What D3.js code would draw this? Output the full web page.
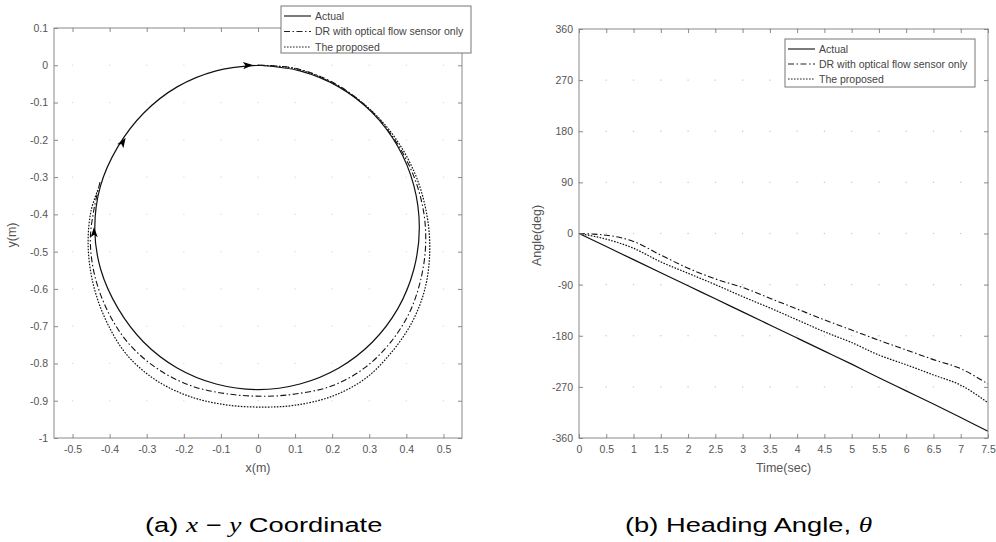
<!DOCTYPE html>
<html><head><meta charset="utf-8">
<script src="https://cdn.jsdelivr.net/npm/d3@7"></script>
<style>
body{margin:0;background:#fff}
svg{display:block}
text{font-family:"Liberation Sans",Arial,Helvetica,sans-serif}
</style>
</head><body>
<svg id="c" width="996" height="542"></svg>
<script>
// ---------------- DATA ----------------
const seriesNames = ["Actual", "DR with optical flow sensor only", "The proposed"];

// (a) x-y trajectory (m)
const xyActualX = [0, 0.113, 0.218, 0.308, 0.377, 0.420, 0.435, 0.420, 0.377, 0.308, 0.218, 0.113, 0, -0.113, -0.218, -0.308, -0.377, -0.424, -0.440, -0.425, -0.378, -0.308, -0.218, -0.113, 0];
const xyActualY = [0, -0.015, -0.058, -0.127, -0.218, -0.322, -0.435, -0.548, -0.653, -0.743, -0.812, -0.855, -0.870, -0.855, -0.812, -0.743, -0.653, -0.548, -0.440, -0.325, -0.219, -0.128, -0.058, -0.015, 0];

const xyDRX = [0, 0.10, 0.20, 0.292, 0.362, 0.417, 0.446, 0.452, 0.440, 0.410, 0.360, 0.290, 0.200, 0.100, 0.020, -0.080, -0.180, -0.270, -0.350, -0.405, -0.440, -0.452, -0.442, -0.425];
const xyDRY = [0, -0.008, -0.045, -0.110, -0.190, -0.290, -0.390, -0.480, -0.570, -0.660, -0.740, -0.810, -0.860, -0.882, -0.888, -0.882, -0.860, -0.815, -0.745, -0.660, -0.565, -0.470, -0.385, -0.310];

const xyPropX = [0, 0.10, 0.20, 0.295, 0.370, 0.425, 0.455, 0.463, 0.450, 0.415, 0.360, 0.290, 0.200, 0.100, 0.020, -0.080, -0.180, -0.275, -0.355, -0.412, -0.446, -0.458, -0.450, -0.430];
const xyPropY = [0, -0.009, -0.047, -0.112, -0.195, -0.295, -0.400, -0.500, -0.600, -0.690, -0.770, -0.840, -0.888, -0.912, -0.917, -0.912, -0.890, -0.845, -0.775, -0.680, -0.580, -0.480, -0.390, -0.330];

// direction arrows on the actual path
const arrowX = [-0.027, -0.364, -0.442];
const arrowY = [0, -0.206, -0.448];
const arrowDeg = [-3.5, -57.8, -91.7];

const xyXTicks = [-0.5, -0.4, -0.3, -0.2, -0.1, 0, 0.1, 0.2, 0.3, 0.4, 0.5];
const xyXTickLabels = ["-0.5", "-0.4", "-0.3", "-0.2", "-0.1", "0", "0.1", "0.2", "0.3", "0.4", "0.5"];
const xyYTicks = [-1, -0.9, -0.8, -0.7, -0.6, -0.5, -0.4, -0.3, -0.2, -0.1, 0, 0.1];
const xyYTickLabels = ["-1", "-0.9", "-0.8", "-0.7", "-0.6", "-0.5", "-0.4", "-0.3", "-0.2", "-0.1", "0", "0.1"];

// (b) heading angle (deg) vs time (sec)
const timeSec = [0, 0.5, 1, 1.5, 2, 2.5, 3, 3.5, 4, 4.5, 5, 5.5, 6, 6.5, 7, 7.5];
const angleActual = [0, -23, -46, -69, -92, -115, -138, -161, -184, -207, -230, -254, -277, -300, -324, -348];
const angleProposed = [0, -10, -26, -50, -70, -90, -111, -131, -152, -173, -192, -214, -231, -249, -267, -298];
const timeDR = [0, 0.25, 0.5, 0.75, 1, 1.5, 2, 2.5, 3, 3.5, 4, 4.5, 5, 5.5, 6, 6.5, 7, 7.5];
const angleDR = [0, -1, -3, -7, -14, -38, -61, -80, -95, -114, -133, -152, -170, -188, -205, -222, -238, -265];

const tTicks = [0, 0.5, 1, 1.5, 2, 2.5, 3, 3.5, 4, 4.5, 5, 5.5, 6, 6.5, 7, 7.5];
const tTickLabels = ["0", "0.5", "1", "1.5", "2", "2.5", "3", "3.5", "4", "4.5", "5", "5.5", "6", "6.5", "7", "7.5"];
const angTicks = [-360, -270, -180, -90, 0, 90, 180, 270, 360];
const angTickLabels = ["-360", "-270", "-180", "-90", "0", "90", "180", "270", "360"];

// ---------------- DRAW ----------------
const svg = d3.select("#c");
const AXIS = "#8a8a8a", TXT = "#555", GRID = "#c4c4c4";
const styles = [
  {dash: null, w: 1.2},
  {dash: "6,2.5,1.5,2.5", w: 1.1},
  {dash: "1.6,1.4", w: 1.2}
];

function panel(o) {
  const g = svg.append("g");
  const x = d3.scaleLinear().domain(o.xDom).range([o.l, o.r]);
  const y = d3.scaleLinear().domain(o.yDom).range([o.b, o.t]);
  o.xTicks.forEach(xv => o.yTicks.forEach(yv => {
    g.append("rect").attr("x", x(xv) - 0.6).attr("y", y(yv) - 0.6)
      .attr("width", 1.2).attr("height", 1.2).attr("fill", o.gridCol);
  }));
  const lines = g.append("g");
  g.append("rect").attr("x", o.l).attr("y", o.t).attr("width", o.r - o.l).attr("height", o.b - o.t)
    .attr("fill", "none").attr("stroke", AXIS).attr("stroke-width", 1);
  const tl = 4;
  const ax = d3.axisBottom(x).tickValues(o.xTicks).tickFormat((d, i) => o.xLabels[i]).tickSize(-tl).tickPadding(8);
  const axT = d3.axisTop(x).tickValues(o.xTicks).tickFormat("").tickSize(-tl);
  const ay = d3.axisLeft(y).tickValues(o.yTicks).tickFormat((d, i) => o.yLabels[i]).tickSize(-tl).tickPadding(6);
  const ayR = d3.axisRight(y).tickValues(o.yTicks).tickFormat("").tickSize(-tl);
  [[ax, `translate(0,${o.b})`], [axT, `translate(0,${o.t})`], [ay, `translate(${o.l},0)`], [ayR, `translate(${o.r},0)`]].forEach(([a, tr]) => {
    const s = g.append("g").attr("transform", tr).call(a);
    s.select(".domain").remove();
    s.selectAll("line").attr("stroke", AXIS);
    s.selectAll("text").attr("fill", TXT).attr("font-size", 10.5)
      .attr("font-family", '"Liberation Sans",Arial,sans-serif');
  });
  g.append("text").attr("x", (o.l + o.r) / 2).attr("y", o.b + 34).attr("text-anchor", "middle")
    .attr("font-size", 12.5).attr("fill", TXT).text(o.xTitle);
  g.append("text").attr("transform", `translate(${o.yTitleX},${(o.t + o.b) / 2 + 2}) rotate(-90)`)
    .attr("text-anchor", "middle").attr("font-size", 12.5).attr("fill", TXT).text(o.yTitle);
  return {g, x, y, lines};
}

// ----- Panel (a)
const A = panel({
  l: 54, r: 462, t: 28, b: 438,
  xDom: [-0.55, 0.55], yDom: [-1, 0.1],
  xTicks: xyXTicks, xLabels: xyXTickLabels, yTicks: xyYTicks, yLabels: xyYTickLabels,
  xTitle: "x(m)", yTitle: "y(m)", yTitleX: 16, gridCol: "#dcdcdc"
});
const xyLine = d3.line().x(d => A.x(d[0])).y(d => A.y(d[1])).curve(d3.curveCatmullRom.alpha(0.5));
const xySeries = [
  d3.zip(xyActualX, xyActualY),
  d3.zip(xyDRX, xyDRY),
  d3.zip(xyPropX, xyPropY)
];
[2, 1, 0].forEach(i => {
  A.lines.append("path").attr("d", xyLine(xySeries[i])).attr("fill", "none")
    .attr("stroke", "#111").attr("stroke-width", styles[i].w)
    .attr("stroke-dasharray", styles[i].dash);
});
arrowX.forEach((ax, i) => {
  A.lines.append("path")
    .attr("transform", `translate(${A.x(ax)},${A.y(arrowY[i])}) rotate(${arrowDeg[i]})`)
    .attr("d", "M5,0 L-5,-3.6 L-2.5,0 L-5,3.6 Z").attr("fill", "#000");
});

// ----- Panel (b)
const B = panel({
  l: 579, r: 988, t: 29, b: 438,
  xDom: [0, 7.5], yDom: [-360, 360],
  xTicks: tTicks, xLabels: tTickLabels, yTicks: angTicks, yLabels: angTickLabels,
  xTitle: "Time(sec)", yTitle: "Angle(deg)", yTitleX: 541, gridCol: GRID
});
const angLine = d3.line().x(d => B.x(d[0])).y(d => B.y(d[1])).curve(d3.curveMonotoneX);
const angSeries = [
  d3.zip(timeSec, angleActual),
  d3.zip(timeDR, angleDR),
  d3.zip(timeSec, angleProposed)
];
[2, 1, 0].forEach(i => {
  B.lines.append("path").attr("d", angLine(angSeries[i])).attr("fill", "none")
    .attr("stroke", "#111").attr("stroke-width", styles[i].w)
    .attr("stroke-dasharray", styles[i].dash);
});

// ----- Legends
function legend(l, t, w, h, rowY) {
  const g = svg.append("g");
  g.append("rect").attr("x", l).attr("y", t).attr("width", w).attr("height", h)
    .attr("fill", "#fff").attr("stroke", "#777").attr("stroke-width", 1);
  seriesNames.forEach((n, i) => {
    const yy = t + rowY[i];
    g.append("line").attr("x1", l + 3).attr("x2", l + 30).attr("y1", yy).attr("y2", yy)
      .attr("stroke", "#222").attr("stroke-width", styles[i].w).attr("stroke-dasharray", styles[i].dash);
    g.append("text").attr("x", l + 34).attr("y", yy + 3.8).attr("font-size", 10.5).attr("fill", "#444").text(n);
  });
}
legend(281, 6, 190, 47, [10, 25.5, 41]);
legend(785, 39, 190, 48, [10, 25, 40]);

// ----- Captions
function caption(x, parts) {
  const t = svg.append("text").attr("transform", `translate(${x},532) scale(1.3,1)`)
    .attr("font-size", 21).attr("fill", "#000");
  parts.forEach(p => {
    const s = t.append("tspan").text(p.s);
    if (p.it) s.attr("font-family", '"Liberation Serif","Times New Roman",serif').attr("font-style", "italic");
  });
}
caption(145, [{s: "(a)  "}, {s: "x", it: true}, {s: " \u2212 "}, {s: "y", it: true}, {s: "  Coordinate"}]);
caption(625, [{s: "(b) Heading Angle,  "}, {s: "\u03b8", it: true}]);
</script>
</body></html>
